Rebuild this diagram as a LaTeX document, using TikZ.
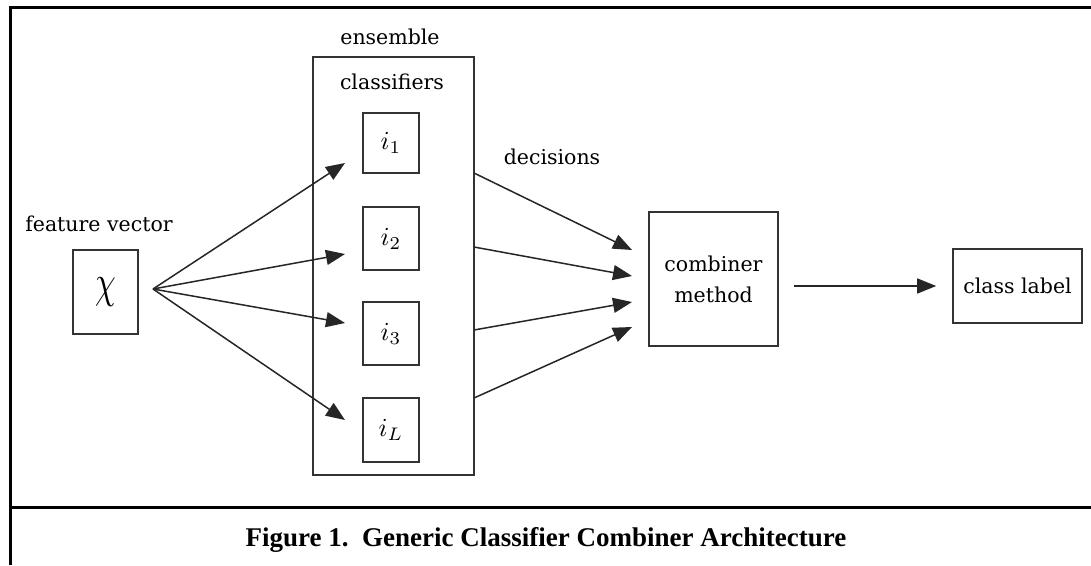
\documentclass[tikz,border=0pt]{standalone}
\usepackage{fontspec}
\usepackage{graphicx}
\setmainfont{DejaVu Serif}
\newfontfamily\capfont{Liberation Serif}
\usetikzlibrary{arrows.meta}

\tikzset{
  box/.style={draw=black!80, line width=1.6pt, inner sep=0pt, fill=white},
  lbl/.style={inner sep=0pt, font=\fontsize{20.5}{24}\selectfont},
  arr/.style={draw=black!85, line width=1.5pt, -{Triangle[length=19pt,width=15pt]}},
  frame/.style={line width=3pt, black}
}
\newcommand{\clsname}[1]{\scalebox{2.6}{$#1$}}

\begin{document}
\begin{tikzpicture}[x=1pt, y=-1pt]
  \useasboundingbox (0,0) rectangle (1091,565);
  \fill[white] (0,0) rectangle (1091,565);

  % outer frame and caption rule
  \draw[frame] (10,565) -- (10,7) -- (1091,7);
  \draw[frame] (10,507) -- (1091,507);

  % input
  \node[lbl] (fvlbl) at (99,224) {feature vector};
  \node[box, minimum width=65pt, minimum height=84pt] (chi) at (105.5,292)
    {\scalebox{3.3}[4.6]{$\chi$}};

  % ensemble of classifiers
  \node[box, minimum width=161pt, minimum height=418pt] (ens) at (393.5,266) {};
  \node[lbl] (enslbl) at (390,37) {ensemble};
  \node[lbl] (clslbl) at (392,82) {classifiers};
  \node[box, minimum width=56pt, minimum height=60pt] (c1) at (391,143) {\clsname{i_1}};
  \node[box, minimum width=56pt, minimum height=63pt] (c2) at (391,238.5) {\clsname{i_2}};
  \node[box, minimum width=56pt, minimum height=63pt] (c3) at (391,333.5) {\clsname{i_3}};
  \node[box, minimum width=56pt, minimum height=64pt] (cL) at (391,430) {\clsname{i_L}};

  % combiner and output
  \node[lbl] (declbl) at (552,157) {decisions};
  \node[box, minimum width=129pt, minimum height=134pt, align=center,
        font=\fontsize{20.5}{31}\selectfont] (comb) at (713.5,279)
    {combiner\\method};
  \node[box, minimum width=129pt, minimum height=74pt,
        font=\fontsize{20.5}{24}\selectfont] (out) at (1017.5,286) {class label};

  % fan-out from the feature vector
  \coordinate (fan) at (153,289);
  \coordinate (t1) at (345,163);
  \coordinate (t2) at (345,254);
  \coordinate (t3) at (345,323);
  \coordinate (tL) at (345,420);
  \foreach \t in {t1,t2,t3,tL} \draw[arr] (fan) -- (\t);

  % decisions into the combiner
  \coordinate (d1) at (474,173);  \coordinate (e1) at (632,250);
  \coordinate (d2) at (474,247);  \coordinate (e2) at (632,276);
  \coordinate (d3) at (474,330);  \coordinate (e3) at (632,302);
  \coordinate (d4) at (474,398);  \coordinate (e4) at (632,327);
  \draw[arr] (d1) -- (e1);
  \draw[arr] (d2) -- (e2);
  \draw[arr] (d3) -- (e3);
  \draw[arr] (d4) -- (e4);

  % combined decision to class label
  \draw[arr, shorten <=15pt, shorten >=16pt] (comb.east |- out.west) -- (out.west);

  % caption
  \node[inner sep=0pt, font=\capfont\bfseries\fontsize{27}{31}\selectfont] (cap) at (546,540)
    {Figure 1.\ \ Generic Classifier Combiner Architecture};
\end{tikzpicture}
\end{document}
